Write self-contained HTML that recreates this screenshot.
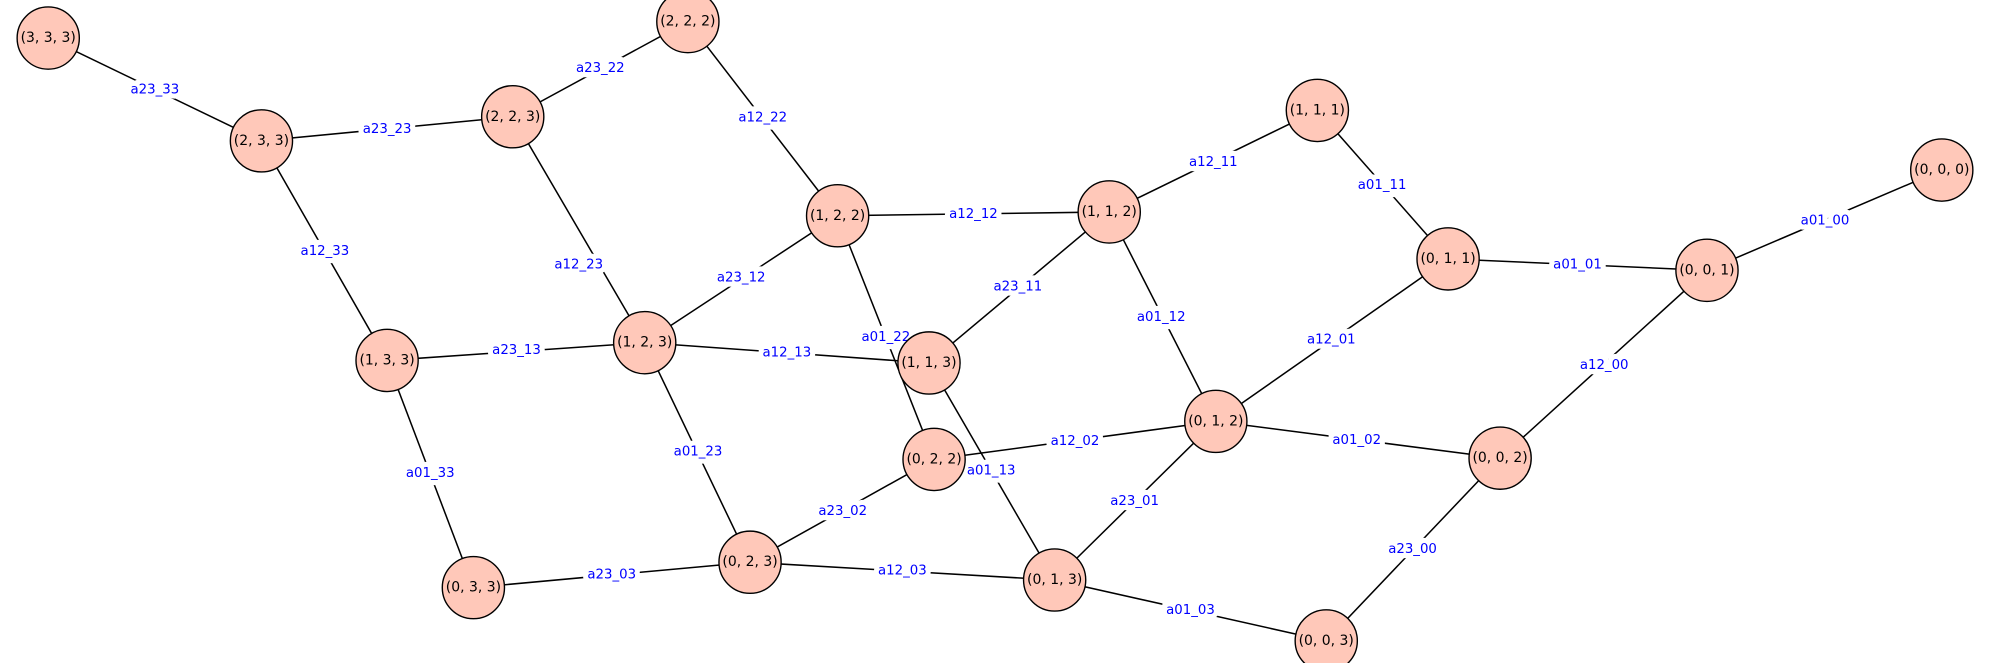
<!DOCTYPE html>
<html><head><meta charset="utf-8"><style>html,body{margin:0;padding:0;background:#fff}svg{display:block}</style></head>
<body>
<svg width="1990" height="663" viewBox="0 0 1568 522.4" xmlns="http://www.w3.org/2000/svg" font-family="'DejaVu Sans','Liberation Sans',sans-serif">
<g stroke="#000" stroke-width="1.2">
<line x1="38" y1="30" x2="206" y2="111"/>
<line x1="206" y1="111" x2="404" y2="92"/>
<line x1="404" y1="92" x2="542" y2="17"/>
<line x1="206" y1="111" x2="305" y2="284"/>
<line x1="404" y1="92" x2="508" y2="270"/>
<line x1="542" y1="17" x2="660" y2="170"/>
<line x1="305" y1="284" x2="508" y2="270"/>
<line x1="508" y1="270" x2="660" y2="170"/>
<line x1="660" y1="170" x2="874" y2="167"/>
<line x1="874" y1="167" x2="1038" y2="87"/>
<line x1="1038" y1="87" x2="1141" y2="204"/>
<line x1="508" y1="270" x2="732" y2="286"/>
<line x1="660" y1="170" x2="736" y2="362"/>
<line x1="874" y1="167" x2="732" y2="286"/>
<line x1="874" y1="167" x2="958" y2="332"/>
<line x1="305" y1="284" x2="373" y2="463"/>
<line x1="508" y1="270" x2="591" y2="443"/>
<line x1="732" y1="286" x2="831" y2="457"/>
<line x1="736" y1="362" x2="591" y2="443"/>
<line x1="736" y1="362" x2="958" y2="332"/>
<line x1="373" y1="463" x2="591" y2="443"/>
<line x1="591" y1="443" x2="831" y2="457"/>
<line x1="831" y1="457" x2="958" y2="332"/>
<line x1="831" y1="457" x2="1045" y2="505"/>
<line x1="958" y1="332" x2="1141" y2="204"/>
<line x1="958" y1="332" x2="1182" y2="361"/>
<line x1="1141" y1="204" x2="1345" y2="213"/>
<line x1="1345" y1="213" x2="1530" y2="134"/>
<line x1="1345" y1="213" x2="1182" y2="361"/>
<line x1="1182" y1="361" x2="1045" y2="505"/>
</g>
<g font-size="10.5" fill="#0000ff" text-anchor="middle" dominant-baseline="central" stroke="#fff" stroke-width="8" paint-order="stroke">
<text x="122" y="71">a23_33</text>
<text x="305" y="102">a23_23</text>
<text x="473" y="54">a23_22</text>
<text x="256" y="198">a12_33</text>
<text x="456" y="209">a12_23</text>
<text x="601" y="93">a12_22</text>
<text x="407" y="276">a23_13</text>
<text x="584" y="219">a23_12</text>
<text x="767" y="169">a12_12</text>
<text x="956" y="128">a12_11</text>
<text x="1089" y="146">a01_11</text>
<text x="620" y="278">a12_13</text>
<text x="698" y="266">a01_22</text>
<text x="802" y="226">a23_11</text>
<text x="915" y="250">a01_12</text>
<text x="339" y="373">a01_33</text>
<text x="550" y="356">a01_23</text>
<text x="781" y="371">a01_13</text>
<text x="664" y="403">a23_02</text>
<text x="847" y="348">a12_02</text>
<text x="482" y="453">a23_03</text>
<text x="711" y="450">a12_03</text>
<text x="894" y="395">a23_01</text>
<text x="938" y="481">a01_03</text>
<text x="1049" y="268">a12_01</text>
<text x="1069" y="347">a01_02</text>
<text x="1243" y="209">a01_01</text>
<text x="1438" y="174">a01_00</text>
<text x="1264" y="288">a12_00</text>
<text x="1113" y="433">a23_00</text>
</g>
<g fill="#ffc8b9" stroke="#000" stroke-width="1.1">
<circle cx="38" cy="30" r="24.5"/><circle cx="206" cy="111" r="24.5"/><circle cx="404" cy="92" r="24.5"/><circle cx="542" cy="17" r="24.5"/>
<circle cx="305" cy="284" r="24.5"/><circle cx="508" cy="270" r="24.5"/><circle cx="660" cy="170" r="24.5"/><circle cx="732" cy="286" r="24.5"/>
<circle cx="874" cy="167" r="24.5"/><circle cx="1038" cy="87" r="24.5"/><circle cx="736" cy="362" r="24.5"/><circle cx="373" cy="463" r="24.5"/>
<circle cx="591" cy="443" r="24.5"/><circle cx="831" cy="457" r="24.5"/><circle cx="958" cy="332" r="24.5"/><circle cx="1141" cy="204" r="24.5"/>
<circle cx="1345" cy="213" r="24.5"/><circle cx="1530" cy="134" r="24.5"/><circle cx="1182" cy="361" r="24.5"/><circle cx="1045" cy="505" r="24.5"/>
</g>
<g font-size="11" fill="#000" text-anchor="middle" dominant-baseline="central">
<text x="38" y="30">(3, 3, 3)</text><text x="206" y="111">(2, 3, 3)</text><text x="404" y="92">(2, 2, 3)</text><text x="542" y="17">(2, 2, 2)</text>
<text x="305" y="284">(1, 3, 3)</text><text x="508" y="270">(1, 2, 3)</text><text x="660" y="170">(1, 2, 2)</text><text x="732" y="286">(1, 1, 3)</text>
<text x="874" y="167">(1, 1, 2)</text><text x="1038" y="87">(1, 1, 1)</text><text x="736" y="362">(0, 2, 2)</text><text x="373" y="463">(0, 3, 3)</text>
<text x="591" y="443">(0, 2, 3)</text><text x="831" y="457">(0, 1, 3)</text><text x="958" y="332">(0, 1, 2)</text><text x="1141" y="204">(0, 1, 1)</text>
<text x="1345" y="213">(0, 0, 1)</text><text x="1530" y="134">(0, 0, 0)</text><text x="1182" y="361">(0, 0, 2)</text><text x="1045" y="505">(0, 0, 3)</text>
</g>
</svg>
</body></html>
